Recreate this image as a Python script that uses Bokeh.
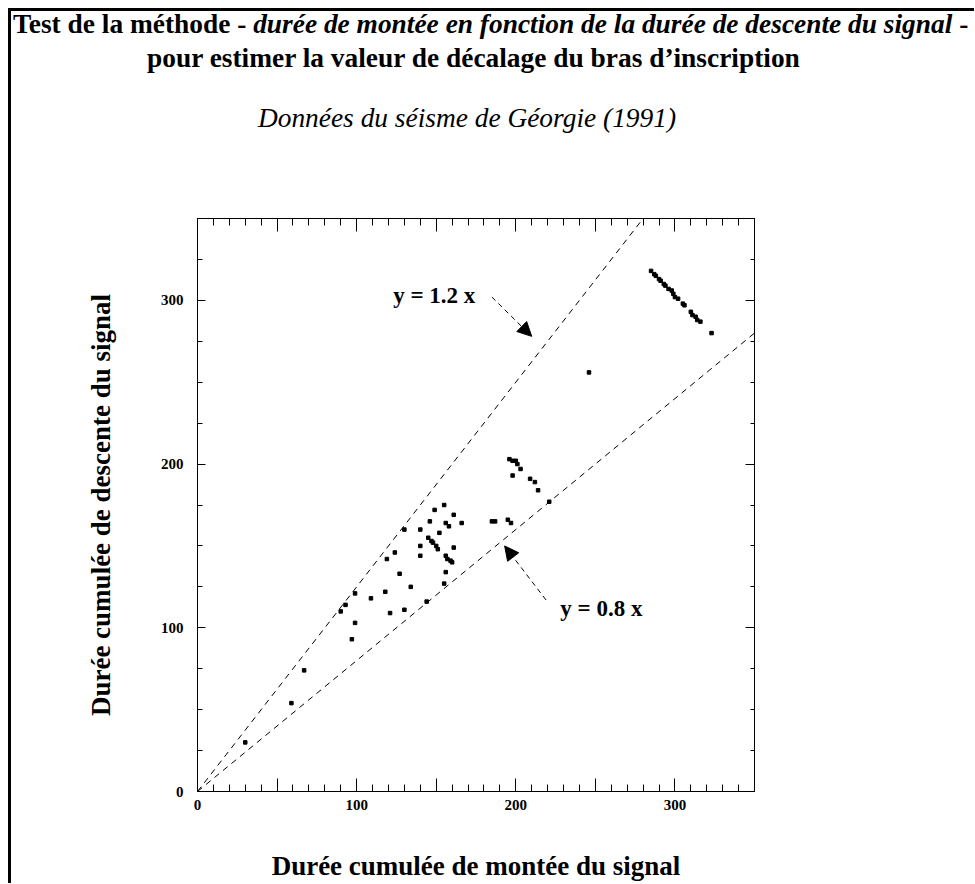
from bokeh.plotting import figure
from bokeh.models import LinearAxis, FixedTicker, Range1d, Label, Arrow, NormalHead, ColumnDataSource, Div
from bokeh.layouts import column
from bokeh.embed import file_html
from bokeh.resources import INLINE

# ---- data ----
rise = [30, 59, 67, 97, 99, 90, 93, 99, 109, 118, 121, 130, 134, 127, 119, 124,
        130, 140, 140, 140, 144, 146, 149, 155, 152,
        145, 147, 148, 150, 151, 156, 158, 161, 166, 161,
        156, 157, 159, 160, 156, 155, 185, 187, 195, 197,
        196, 198, 200, 201, 203, 198, 209, 212, 214, 221, 246,
        285, 287, 288, 290, 291, 293, 294, 296, 298, 299, 300, 302, 305, 306,
        310, 311, 313, 314, 316, 323]
fall = [30, 54, 74, 93, 103, 110, 114, 121, 118, 122, 109, 111, 125, 133, 142, 146,
        160, 160, 150, 144, 116, 165, 172, 175, 158,
        155, 153, 152, 150, 148, 164, 162, 169, 164, 149,
        144, 142, 141, 140, 134, 127, 165, 165, 166, 164,
        203, 202, 202, 200, 197, 193, 191, 189, 184, 177, 256,
        318, 316, 315, 313, 312, 310, 309, 307, 306, 304, 302, 301, 298, 297,
        293, 291, 290, 288, 287, 280]

upper_slope = 1.25
lower_slope = 0.8
axis_max = 350
x_major = [0, 50, 100, 150, 200, 250, 300, 350]
x_minor = list(range(0, 351, 10))
x_labels = {50: "", 150: "", 250: "", 350: ""}
y_major = [0, 100, 200, 300]
y_minor = [v for v in range(0, 351, 25) if v % 100]

upper_label = ("y = 1.2 x", 123, 303)
lower_label = ("y = 0.8 x", 228, 112)
upper_arrow = (185, 302, 210, 278)
lower_arrow = (219, 117, 193, 150)

title_plain = "Test de la méthode -"
title_italic = "durée de montée en fonction de la durée de descente du signal"
title_end = "-"
title_line2 = "pour estimer la valeur de décalage du bras d’inscription"
subtitle = "Données du séisme de Géorgie (1991)"

FONT = "Liberation Serif"

# layout (pixels)
W = 963
DIV_H = 130
H = 872 - DIV_H
FL, FT, FR, FB = 186, 77, 743, 650

fam = f"font-family:'{FONT}',serif;"
head = Div(
    width=W, height=DIV_H,
    text=(
        f'<div style="position:relative;width:{W}px;height:{DIV_H}px;{fam}color:#000;">'
        f'<span style="position:absolute;left:2px;top:0px;{fam}font-size:27.4px;line-height:1;'
        f'font-weight:bold;white-space:nowrap;">{title_plain} <i style="{fam}">{title_italic}</i> {title_end}</span>'
        f'<span style="position:absolute;left:136px;top:34px;{fam}font-size:27.4px;line-height:1;'
        f'font-weight:bold;white-space:nowrap;">{title_line2}</span>'
        f'<span style="position:absolute;left:0px;width:912px;top:94px;text-align:center;{fam}font-size:27.4px;'
        f'line-height:1;font-style:italic;white-space:nowrap;">{subtitle}</span>'
        '</div>'
    ),
    styles={"margin": "0", "padding": "0", "font-family": f"{FONT}, serif"},
)

fig = figure(width=W, height=H, x_range=Range1d(0, axis_max), y_range=Range1d(0, axis_max),
             output_backend="svg", toolbar_location=None,
             x_axis_location=None, y_axis_location=None,
             min_border_left=FL, min_border_top=FT, min_border_right=W - FR, min_border_bottom=H - FB)
fig.title.visible = False
fig.grid.visible = False
fig.outline_line_color = "black"
fig.outline_line_width = 1
fig.background_fill_color = "white"
fig.border_fill_color = "white"


def style_axis(ax, tin, tmin, labels=True):
    ax.axis_line_color = "black"
    ax.major_tick_line_color = "black"
    ax.minor_tick_line_color = "black"
    ax.major_tick_in = tin
    ax.major_tick_out = 0
    ax.minor_tick_in = tmin
    ax.minor_tick_out = 0
    ax.major_label_text_font = FONT
    ax.major_label_text_font_style = "bold"
    ax.major_label_text_font_size = "15px"
    ax.major_label_text_color = "black"
    if not labels:
        ax.major_label_overrides = {t: "" for t in ax.ticker.ticks}
        ax.major_label_standoff = 0


xb = LinearAxis(ticker=FixedTicker(ticks=x_major, minor_ticks=x_minor))
xb.major_label_overrides = x_labels
style_axis(xb, 13, 7)
xb.major_label_standoff = 8
xb.axis_label = "Durée cumulée de montée du signal"
xb.axis_label_text_font = FONT
xb.axis_label_text_font_style = "bold"
xb.axis_label_text_font_size = "27px"
xb.axis_label_text_color = "black"
xb.axis_label_standoff = 38
fig.add_layout(xb, "below")

xt = LinearAxis(ticker=FixedTicker(ticks=x_major, minor_ticks=x_minor))
style_axis(xt, 13, 7, labels=False)
fig.add_layout(xt, "above")

yl = LinearAxis(ticker=FixedTicker(ticks=y_major, minor_ticks=y_minor))
style_axis(yl, 8, 5)
yl.major_label_standoff = 14
yl.axis_label = "Durée cumulée de descente du signal"
yl.axis_label_text_font = FONT
yl.axis_label_text_font_style = "bold"
yl.axis_label_text_font_size = "27px"
yl.axis_label_text_color = "black"
yl.axis_label_standoff = 42
fig.add_layout(yl, "left")

yr = LinearAxis(ticker=FixedTicker(ticks=y_major, minor_ticks=y_minor))
style_axis(yr, 9, 4, labels=False)
fig.add_layout(yr, "right")

# reference lines
up_x = [0, axis_max / upper_slope]
lo_x = [0, axis_max]
fig.line(up_x, [upper_slope * v for v in up_x], line_color="black", line_width=1, line_dash="6 5")
fig.line(lo_x, [lower_slope * v for v in lo_x], line_color="black", line_width=1, line_dash="6 5")

src = ColumnDataSource(dict(x=rise, y=fall))
fig.scatter("x", "y", source=src, marker="square", size=3.5, color="black")

for (xs, ys, xe, ye) in (upper_arrow, lower_arrow):
    fig.add_layout(Arrow(x_start=xs, y_start=ys, x_end=xe, y_end=ye, line_color="black",
                         line_width=1, line_dash="5 4",
                         end=NormalHead(size=14, fill_color="black", line_color="black")))

for (t, lx, ly) in (upper_label, lower_label):
    fig.add_layout(Label(x=lx, y=ly, text=t, text_font=FONT, text_font_style="bold",
                         text_font_size="23px", text_baseline="middle", text_color="black"))

p = column(head, fig, spacing=0,
           styles={"margin-left": "8px", "margin-top": "8px",
                   "border-left": "3px solid black", "border-top": "3px solid black"})

open("out.html", "w").write(file_html(p, INLINE))
